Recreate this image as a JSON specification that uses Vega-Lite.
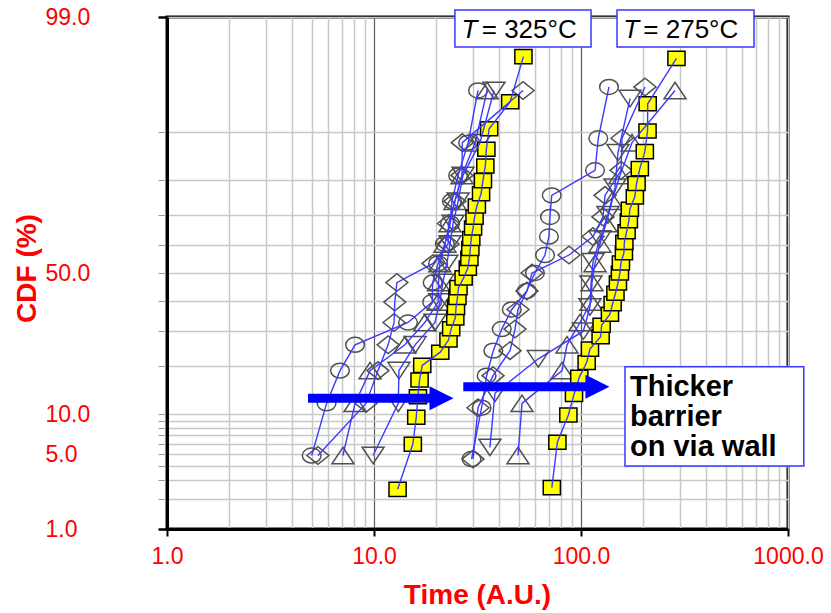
{
"$schema":"https://vega.github.io/schema/vega-lite/v6.json",
"width":621,"height":512,
"autosize":{"type":"none"},
"padding":{"left":167,"top":17,"right":43,"bottom":84},
"background":"white",
"config":{"view":{"stroke":"black","strokeWidth":3},"font":"Liberation Sans"},
"datasets":{
"pts":[
{"temp":"325","marker":"circle","cdf":4.861,"time":5.0},{"temp":"325","marker":"circle","cdf":11.806,"time":5.9},{"temp":"325","marker":"circle","cdf":18.75,"time":6.85},{"temp":"325","marker":"circle","cdf":25.694,"time":8.1},{"temp":"325","marker":"circle","cdf":32.639,"time":14.6},{"temp":"325","marker":"circle","cdf":39.583,"time":19.1},{"temp":"325","marker":"circle","cdf":46.528,"time":19.2},{"temp":"325","marker":"circle","cdf":53.472,"time":20.4},{"temp":"325","marker":"circle","cdf":60.417,"time":22.0},{"temp":"325","marker":"circle","cdf":67.361,"time":23.3},{"temp":"325","marker":"circle","cdf":74.306,"time":23.8},{"temp":"325","marker":"circle","cdf":81.25,"time":25.5},{"temp":"325","marker":"circle","cdf":88.194,"time":28.5},{"temp":"325","marker":"circle","cdf":95.139,"time":31.8},
{"temp":"325","marker":"diamond","cdf":4.861,"time":5.36},{"temp":"325","marker":"diamond","cdf":11.806,"time":9.15},{"temp":"325","marker":"diamond","cdf":18.75,"time":10.45},{"temp":"325","marker":"diamond","cdf":25.694,"time":11.7},{"temp":"325","marker":"diamond","cdf":32.639,"time":12.5},{"temp":"325","marker":"diamond","cdf":39.583,"time":12.6},{"temp":"325","marker":"diamond","cdf":46.528,"time":12.9},{"temp":"325","marker":"diamond","cdf":53.472,"time":19.3},{"temp":"325","marker":"diamond","cdf":60.417,"time":22.8},{"temp":"325","marker":"diamond","cdf":67.361,"time":22.9},{"temp":"325","marker":"diamond","cdf":74.306,"time":24.6},{"temp":"325","marker":"diamond","cdf":81.25,"time":26.6},{"temp":"325","marker":"diamond","cdf":88.194,"time":26.7},{"temp":"325","marker":"diamond","cdf":95.139,"time":52.5},
{"temp":"325","marker":"up","cdf":4.861,"time":7.08},{"temp":"325","marker":"up","cdf":11.806,"time":8.1},{"temp":"325","marker":"up","cdf":18.75,"time":9.57},{"temp":"325","marker":"up","cdf":25.694,"time":14.1},{"temp":"325","marker":"up","cdf":32.639,"time":17.6},{"temp":"325","marker":"up","cdf":39.583,"time":20.4},{"temp":"325","marker":"up","cdf":46.528,"time":20.5},{"temp":"325","marker":"up","cdf":53.472,"time":20.8},{"temp":"325","marker":"up","cdf":60.417,"time":22.0},{"temp":"325","marker":"up","cdf":67.361,"time":23.3},{"temp":"325","marker":"up","cdf":74.306,"time":24.6},{"temp":"325","marker":"up","cdf":81.25,"time":26.6},{"temp":"325","marker":"up","cdf":88.194,"time":30.8},{"temp":"325","marker":"up","cdf":95.139,"time":35.2},
{"temp":"325","marker":"down","cdf":4.861,"time":9.9},{"temp":"325","marker":"down","cdf":11.806,"time":13.1},{"temp":"325","marker":"down","cdf":18.75,"time":13.2},{"temp":"325","marker":"down","cdf":25.694,"time":15.8},{"temp":"325","marker":"down","cdf":32.639,"time":19.7},{"temp":"325","marker":"down","cdf":39.583,"time":20.8},{"temp":"325","marker":"down","cdf":46.528,"time":21.5},{"temp":"325","marker":"down","cdf":53.472,"time":22.5},{"temp":"325","marker":"down","cdf":60.417,"time":23.3},{"temp":"325","marker":"down","cdf":67.361,"time":24.1},{"temp":"325","marker":"down","cdf":74.306,"time":25.5},{"temp":"325","marker":"down","cdf":81.25,"time":26.9},{"temp":"325","marker":"down","cdf":88.194,"time":32.5},{"temp":"325","marker":"down","cdf":95.139,"time":38.0},
{"temp":"275","marker":"circle","cdf":4.545,"time":29.6},{"temp":"275","marker":"circle","cdf":11.039,"time":33.1},{"temp":"275","marker":"circle","cdf":17.532,"time":35.0},{"temp":"275","marker":"circle","cdf":24.026,"time":37.7},{"temp":"275","marker":"circle","cdf":30.519,"time":41.4},{"temp":"275","marker":"circle","cdf":37.013,"time":46.3},{"temp":"275","marker":"circle","cdf":43.506,"time":54.7},{"temp":"275","marker":"circle","cdf":50.0,"time":59.9},{"temp":"275","marker":"circle","cdf":56.494,"time":67.0},{"temp":"275","marker":"circle","cdf":62.987,"time":70.0},{"temp":"275","marker":"circle","cdf":69.481,"time":70.8},{"temp":"275","marker":"circle","cdf":75.974,"time":72.2},{"temp":"275","marker":"circle","cdf":82.468,"time":116.9},{"temp":"275","marker":"circle","cdf":88.961,"time":121.2},{"temp":"275","marker":"circle","cdf":95.455,"time":136.5},
{"temp":"275","marker":"diamond","cdf":4.545,"time":30.1},{"temp":"275","marker":"diamond","cdf":11.039,"time":31.8},{"temp":"275","marker":"diamond","cdf":17.532,"time":37.6},{"temp":"275","marker":"diamond","cdf":24.026,"time":45.4},{"temp":"275","marker":"diamond","cdf":30.519,"time":48.0},{"temp":"275","marker":"diamond","cdf":37.013,"time":49.6},{"temp":"275","marker":"diamond","cdf":43.506,"time":54.8},{"temp":"275","marker":"diamond","cdf":50.0,"time":58.0},{"temp":"275","marker":"diamond","cdf":56.494,"time":87.5},{"temp":"275","marker":"diamond","cdf":62.987,"time":114.3},{"temp":"275","marker":"diamond","cdf":69.481,"time":127.7},{"temp":"275","marker":"diamond","cdf":75.974,"time":130.6},{"temp":"275","marker":"diamond","cdf":82.468,"time":156.1},{"temp":"275","marker":"diamond","cdf":88.961,"time":157.8},{"temp":"275","marker":"diamond","cdf":95.455,"time":203.8},
{"temp":"275","marker":"up","cdf":4.861,"time":49.6},{"temp":"275","marker":"up","cdf":11.806,"time":51.9},{"temp":"275","marker":"up","cdf":18.75,"time":81.0},{"temp":"275","marker":"up","cdf":25.694,"time":85.6},{"temp":"275","marker":"up","cdf":32.639,"time":98.9},{"temp":"275","marker":"up","cdf":39.583,"time":111.8},{"temp":"275","marker":"up","cdf":46.528,"time":113.0},{"temp":"275","marker":"up","cdf":53.472,"time":116.9},{"temp":"275","marker":"up","cdf":60.417,"time":123.5},{"temp":"275","marker":"up","cdf":67.361,"time":132.1},{"temp":"275","marker":"up","cdf":74.306,"time":141.2},{"temp":"275","marker":"up","cdf":81.25,"time":154.3},{"temp":"275","marker":"up","cdf":88.194,"time":176.4},{"temp":"275","marker":"up","cdf":95.139,"time":284.6},
{"temp":"275","marker":"down","cdf":5.645,"time":36.3},{"temp":"275","marker":"down","cdf":13.71,"time":38.4},{"temp":"275","marker":"down","cdf":21.774,"time":62.2},{"temp":"275","marker":"down","cdf":29.839,"time":102.6},{"temp":"275","marker":"down","cdf":37.903,"time":110.5},{"temp":"275","marker":"down","cdf":45.968,"time":111.8},{"temp":"275","marker":"down","cdf":54.032,"time":114.3},{"temp":"275","marker":"down","cdf":62.097,"time":123.5},{"temp":"275","marker":"down","cdf":70.161,"time":135.0},{"temp":"275","marker":"down","cdf":78.226,"time":146.0},{"temp":"275","marker":"down","cdf":86.29,"time":150.9},{"temp":"275","marker":"down","cdf":94.355,"time":172.5},
{"temp":"325","marker":"square","cdf":2.465,"time":13.0},{"temp":"325","marker":"square","cdf":5.986,"time":15.4},{"temp":"325","marker":"square","cdf":9.507,"time":16.0},{"temp":"325","marker":"square","cdf":13.028,"time":16.3},{"temp":"325","marker":"square","cdf":16.549,"time":16.6},{"temp":"325","marker":"square","cdf":20.07,"time":17.1},{"temp":"325","marker":"square","cdf":23.592,"time":20.9},{"temp":"325","marker":"square","cdf":27.113,"time":22.9},{"temp":"325","marker":"square","cdf":30.634,"time":23.6},{"temp":"325","marker":"square","cdf":34.155,"time":24.7},{"temp":"325","marker":"square","cdf":37.676,"time":24.9},{"temp":"325","marker":"square","cdf":41.197,"time":25.3},{"temp":"325","marker":"square","cdf":44.718,"time":25.6},{"temp":"325","marker":"square","cdf":48.239,"time":27.1},{"temp":"325","marker":"square","cdf":51.761,"time":28.4},{"temp":"325","marker":"square","cdf":55.282,"time":28.9},{"temp":"325","marker":"square","cdf":58.803,"time":29.2},{"temp":"325","marker":"square","cdf":62.324,"time":29.5},{"temp":"325","marker":"square","cdf":65.845,"time":30.1},{"temp":"325","marker":"square","cdf":69.366,"time":30.6},{"temp":"325","marker":"square","cdf":72.887,"time":31.4},{"temp":"325","marker":"square","cdf":76.408,"time":32.9},{"temp":"325","marker":"square","cdf":79.93,"time":33.6},{"temp":"325","marker":"square","cdf":83.451,"time":34.5},{"temp":"325","marker":"square","cdf":86.972,"time":34.9},{"temp":"325","marker":"square","cdf":90.493,"time":36.0},{"temp":"325","marker":"square","cdf":94.014,"time":45.5},{"temp":"325","marker":"square","cdf":97.535,"time":52.7},
{"temp":"275","marker":"square","cdf":2.555,"time":72.3},{"temp":"275","marker":"square","cdf":6.204,"time":76.9},{"temp":"275","marker":"square","cdf":9.854,"time":86.9},{"temp":"275","marker":"square","cdf":13.504,"time":92.5},{"temp":"275","marker":"square","cdf":17.153,"time":98.1},{"temp":"275","marker":"square","cdf":20.803,"time":106.5},{"temp":"275","marker":"square","cdf":24.453,"time":110.5},{"temp":"275","marker":"square","cdf":28.102,"time":124.4},{"temp":"275","marker":"square","cdf":31.752,"time":125.8},{"temp":"275","marker":"square","cdf":35.401,"time":138.0},{"temp":"275","marker":"square","cdf":39.051,"time":142.2},{"temp":"275","marker":"square","cdf":42.701,"time":146.7},{"temp":"275","marker":"square","cdf":46.35,"time":150.8},{"temp":"275","marker":"square","cdf":50.0,"time":154.2},{"temp":"275","marker":"square","cdf":53.65,"time":155.9},{"temp":"275","marker":"square","cdf":57.299,"time":161.2},{"temp":"275","marker":"square","cdf":60.949,"time":162.0},{"temp":"275","marker":"square","cdf":64.599,"time":166.1},{"temp":"275","marker":"square","cdf":68.248,"time":170.3},{"temp":"275","marker":"square","cdf":71.898,"time":172.2},{"temp":"275","marker":"square","cdf":75.547,"time":182.0},{"temp":"275","marker":"square","cdf":79.197,"time":185.5},{"temp":"275","marker":"square","cdf":82.847,"time":192.4},{"temp":"275","marker":"square","cdf":86.496,"time":203.4},{"temp":"275","marker":"square","cdf":90.146,"time":209.6},{"temp":"275","marker":"square","cdf":93.796,"time":210.0},{"temp":"275","marker":"square","cdf":97.445,"time":289.2}
],
"arrows":[{"time":21.19,"start":4.8,"cdf":12.73},{"time":120.1,"start":27.0,"cdf":15.07}],
"boxes":[{"time":24.6,"time2":111.8,"cdf":99.16,"cdf2":98.0},{"time":149.3,"time2":685.2,"cdf":99.16,"cdf2":98.0},{"time":163.1,"time2":1192,"cdf":19.72,"cdf2":3.97}],
"italic":[{"time":26.5,"cdf":98.36,"label":"T"},{"time":160.0,"cdf":98.36,"label":"T"}],
"plain":[{"time":33.15,"cdf":98.36,"label":"= 325°C"},{"time":200.0,"cdf":98.36,"label":"= 275°C"}],
"bold":[{"time":172.4,"cdf":13.23,"label":"Thicker\nbarrier\non via wall"}]
},
"encoding":{
"x":{"field":"time","type":"quantitative","scale":{"type":"log","domain":[1,1000]},
 "axis":{"values":[1,2,3,4,5,6,7,8,9,10,20,30,40,50,60,70,80,90,100,200,300,400,500,600,700,800,900,1000],
 "labelExpr":"(datum.value==1||datum.value==10||datum.value==100||datum.value==1000) ? format(datum.value,'.1f') : ''",
 "labelOverlap":false,"labelFlush":false,"labelBound":false,
 "grid":true,
 "gridColor":{"condition":{"test":"datum.value==10||datum.value==100","value":"#5a5a5a"},"value":"#c8c8c8"},
 "gridWidth":{"condition":{"test":"datum.value==10||datum.value==100","value":1.2},"value":1.5},
 "tickOpacity":{"condition":{"test":"datum.value==1||datum.value==10||datum.value==100||datum.value==1000","value":1},"value":0},
 "tickColor":"black","tickWidth":2,"tickSize":7,
 "domainColor":"black","domainWidth":3,
 "labelColor":"#ff0000","labelFontSize":23,"labelPadding":9,"labelFont":"Liberation Sans",
 "title":"Time (A.U.)","titleColor":"#ff0000","titleFontSize":28,"titleFontWeight":"bold","titleFont":"Liberation Sans",
 "titleX":310,"titleY":66,"titleBaseline":"middle","titleAlign":"center"}},
"y":{"field":"z","type":"quantitative","scale":{"domain":[-2.326348,2.326348],"nice":false,"zero":false},
 "axis":{"values":[-2.326348,-2.053749,-1.880794,-1.750686,-1.644854,-1.554774,-1.475791,-1.405072,-1.340755,-1.281552,-0.841621,-0.524401,-0.253347,0,0.253347,0.524401,0.841621,1.281552,2.326348],
 "labelExpr":"indexof([1,5,10,50,99], round(cumulativeNormal(datum.value)*100)) >= 0 ? format(round(cumulativeNormal(datum.value)*100),'.1f') : ''",
 "labelOverlap":false,"labelFlush":false,"labelBound":false,
 "grid":true,"gridColor":"#c8c8c8","gridWidth":1.5,
 "tickColor":{"condition":{"test":"abs(datum.value)>2.3","value":"black"},"value":"#9a9a9a"},
 "tickWidth":{"condition":{"test":"abs(datum.value)>2.3","value":2.5},"value":1},
 "tickSize":9,
 "domainColor":"black","domainWidth":3,
 "labelColor":"#ff0000","labelFontSize":23,"labelPadding":113,"labelAlign":"left","labelBaseline":"middle","labelFont":"Liberation Sans",
 "title":"CDF (%)","titleColor":"#ff0000","titleFontSize":28,"titleFontWeight":"bold","titleFont":"Liberation Sans",
 "titleX":-140,"titleY":251,"titleAngle":-90,"titleAlign":"center","titleBaseline":"middle"}}
},
"layer":[
{"data":{"name":"pts"},"transform":[{"filter":"datum.marker != 'square'"},{"calculate":"quantileNormal(datum.cdf/100)","as":"z"}],
 "mark":{"type":"point","filled":false,"color":"#505050","strokeWidth":1.5,"opacity":1,"size":484},
 "encoding":{"shape":{"field":"marker","type":"nominal","legend":null,"scale":{"domain":["circle","diamond","up","down"],"range":["M-0.85,0A0.85,0.68,0,1,1,0.85,0A0.85,0.68,0,1,1,-0.85,0Z","M-1,0L0,-0.8L1,0L0,0.8Z","M0,-0.75L1,0.75L-1,0.75Z","M-1,-0.75L1,-0.75L0,0.75Z"]}}}},
{"data":{"name":"pts"},"transform":[{"filter":"datum.marker == 'square'"},{"calculate":"quantileNormal(datum.cdf/100)","as":"z"}],
 "mark":{"type":"point","filled":true,"fill":"#ffff00","stroke":"black","strokeWidth":1.5,"opacity":1,"fillOpacity":1,"size":484,"shape":"M-0.78,-0.64L0.78,-0.64L0.78,0.64L-0.78,0.64Z"}},
{"data":{"name":"pts"},"transform":[{"calculate":"quantileNormal(datum.cdf/100)","as":"z"}],
 "mark":{"type":"line","color":"#3a3aff","strokeWidth":1.4},
 "encoding":{"detail":[{"field":"temp"},{"field":"marker"}],"order":{"field":"cdf","type":"quantitative"}}},
{"data":{"name":"arrows"},"transform":[{"calculate":"quantileNormal(datum.cdf/100)","as":"z"}],
 "mark":{"type":"rule","color":"#0000ff","strokeWidth":9},
 "encoding":{"x2":{"field":"start"}}},
{"data":{"name":"arrows"},"transform":[{"calculate":"quantileNormal(datum.cdf/100)","as":"z"}],
 "mark":{"type":"point","filled":true,"color":"#0000ff","opacity":1,"size":576,"shape":"M-1,-1L1,0L-1,1Z"}},
{"data":{"name":"boxes"},"transform":[{"calculate":"quantileNormal(datum.cdf/100)","as":"z"},{"calculate":"quantileNormal(datum.cdf2/100)","as":"z2"}],
 "mark":{"type":"rect","fill":"white","stroke":"#3838ff","strokeWidth":1.5},
 "encoding":{"x2":{"field":"time2"},"y2":{"field":"z2"}}},
{"data":{"name":"italic"},"transform":[{"calculate":"quantileNormal(datum.cdf/100)","as":"z"}],
 "mark":{"type":"text","align":"left","baseline":"alphabetic","fontSize":26,"fontStyle":"italic","color":"black","font":"Liberation Sans"},
 "encoding":{"text":{"field":"label"}}},
{"data":{"name":"plain"},"transform":[{"calculate":"quantileNormal(datum.cdf/100)","as":"z"}],
 "mark":{"type":"text","align":"left","baseline":"alphabetic","fontSize":26,"color":"black","font":"Liberation Sans"},
 "encoding":{"text":{"field":"label"}}},
{"data":{"name":"bold"},"transform":[{"calculate":"quantileNormal(datum.cdf/100)","as":"z"}],
 "mark":{"type":"text","align":"left","baseline":"alphabetic","fontSize":29,"fontWeight":"bold","lineBreak":"\n","lineHeight":30,"color":"black","font":"Liberation Sans"},
 "encoding":{"text":{"field":"label"}}}
]
}
